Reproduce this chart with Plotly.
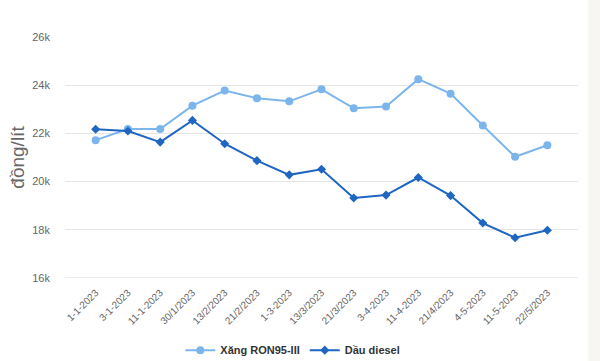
import plotly.graph_objects as go

dates = ["1-1-2023", "3-1-2023", "11-1-2023", "30/1/2023", "13/2/2023", "21/2/2023",
         "1-3-2023", "13/3/2023", "21/3/2023", "3-4-2023", "11-4-2023", "21/4/2023",
         "4-5-2023", "11-5-2023", "22/5/2023"]
xang_ron95 = [21720, 22180, 22180, 23150, 23780, 23460, 23330, 23830, 23040, 23120,
              24250, 23650, 22330, 21030, 21510]
dau_diesel = [22170, 22100, 21640, 22540, 21570, 20870, 20280, 20510, 19320, 19440,
              20170, 19420, 18280, 17670, 17980]
y_ticks = [16000, 18000, 20000, 22000, 24000, 26000]
y_tick_labels = ["16k", "18k", "20k", "22k", "24k", "26k"]

fig = go.Figure()
fig.add_trace(go.Scatter(
    x=dates, y=xang_ron95, name="Xăng RON95-III", mode="lines+markers",
    line=dict(color="#7cb5ec", width=2),
    marker=dict(symbol="circle", size=8, color="#7cb5ec"),
))
fig.add_trace(go.Scatter(
    x=dates, y=dau_diesel, name="Dầu diesel", mode="lines+markers",
    line=dict(color="#1f65c2", width=2),
    marker=dict(symbol="diamond", size=7, color="#1f65c2"),
))

fig.update_layout(
    width=600, height=361,
    margin=dict(l=65, r=22, t=37, b=83),
    paper_bgcolor="white", plot_bgcolor="white",
    font=dict(family="Liberation Sans, Arial, sans-serif", color="#666666"),
    showlegend=True,
    legend=dict(orientation="h", x=0.488, xanchor="center", xref="container",
                y=0.03, yanchor="middle", yref="container",
                font=dict(size=11, color="#333333", family="Liberation Sans, Arial, sans-serif",
                          weight="bold"),
                itemwidth=30, traceorder="normal"),
    shapes=[dict(type="rect", xref="paper", yref="paper",
                 x0=(588 - 65) / 513, x1=1.1, y0=-1, y1=2,
                 fillcolor="#f7f6f2", line=dict(width=0), layer="above")],
)
fig.update_xaxes(
    type="category", tickangle=-45, tickfont=dict(size=10, color="#666666"),
    showgrid=False, showline=False, ticks="", zeroline=False, automargin=False,
    ticklabelstandoff=6,
)
fig.update_yaxes(
    range=[16000, 26000], tickvals=y_ticks, ticktext=y_tick_labels,
    tickfont=dict(size=11, color="#666666"),
    showgrid=True, gridcolor="#e6e6e6", gridwidth=1, zeroline=False,
    title=dict(text="đồng/lít", font=dict(size=19, color="#666666"), standoff=2),
    ticks="", ticklabelstandoff=14, automargin=False,
)
fig.add_hline(y=16000, line=dict(color="#ccd6eb", width=1))
fig.write_html("out.html", config={"displayModeBar": False},
               post_script="document.body.style.margin='0';document.body.style.overflow='hidden';")
